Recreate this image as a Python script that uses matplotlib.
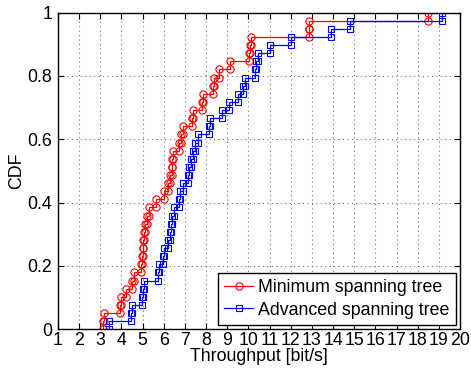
import numpy as np
import matplotlib
matplotlib.use('Agg')
import matplotlib.pyplot as plt

# throughput samples (sorted), one CDF step each
min_tree = [3.12, 3.18, 3.93, 4.0, 4.21, 4.48, 4.58, 4.92, 4.95, 5.0,
            5.03, 5.06, 5.13, 5.22, 5.3, 5.63, 6.0, 6.2, 6.29, 6.37,
            6.4, 6.45, 6.73, 6.8, 6.9, 7.32, 7.37, 7.79, 7.87, 8.34,
            8.39, 8.62, 9.13, 10.04, 10.07, 10.13, 12.85, 12.88, 18.5]
adv_tree = [3.43, 4.45, 4.51, 4.95, 5.03, 5.08, 5.74, 5.77, 5.98, 6.02,
            6.21, 6.29, 6.35, 6.4, 6.5, 6.72, 6.77, 6.92, 7.16, 7.19,
            7.29, 7.39, 7.47, 7.6, 8.12, 8.18, 8.75, 9.08, 9.49, 9.76,
            9.84, 10.31, 10.34, 10.47, 11.02, 12.01, 13.89, 14.8, 19.13]
labels = ['Minimum spanning tree', 'Advanced spanning tree']
x_ticks = list(range(1, 21))
y_ticks = [0, 0.2, 0.4, 0.6, 0.8, 1]
y_tick_labels = ['0', '0.2', '0.4', '0.6', '0.8', '1']


def cdf_vertices(samples):
    x = np.sort(np.asarray(samples, dtype=float))
    n = len(x)
    lo = np.arange(n) / n
    hi = np.arange(1, n + 1) / n
    xs = np.repeat(x, 2)
    ys = np.column_stack([lo, hi]).ravel()
    return xs, ys


plt.rcParams['font.family'] = ['Liberation Sans', 'DejaVu Sans']

fig = plt.figure(figsize=(4.71, 3.72), dpi=100)
ax = fig.add_axes([0.123, 0.115, 0.854, 0.851])

xs, ys = cdf_vertices(min_tree)
ax.plot(xs, ys, color='red', lw=0.9, marker='o', ms=5.2, mfc='none',
        mew=0.8, label=labels[0])
xs, ys = cdf_vertices(adv_tree)
ax.plot(xs, ys, color='blue', lw=0.9, marker='s', ms=4.3, mfc='none',
        mew=0.8, label=labels[1])

ax.set_xlim(1, 20)
ax.set_ylim(0, 1)
ax.set_xticks(x_ticks)
ax.set_yticks(y_ticks)
ax.set_yticklabels(y_tick_labels)
ax.tick_params(direction='in', top=True, right=True, length=4, width=0.8,
               labelsize=12.8)
ax.tick_params(axis='x', pad=2)
ax.tick_params(axis='y', pad=4)
ax.grid(True, linestyle=(0, (1, 3)), color='#707070', linewidth=0.8)
for s in ax.spines.values():
    s.set_linewidth(1.0)

ax.set_xlabel('Throughput [bit/s]', fontsize=12.8, labelpad=-1)
ax.set_ylabel('CDF', fontsize=12.8, labelpad=2)

leg = ax.legend(loc='lower right', fontsize=12.8, fancybox=False,
                framealpha=1, edgecolor='black', borderpad=0.35,
                handlelength=1.6, handletextpad=0.3, labelspacing=0.3,
                borderaxespad=0.25)
leg.get_frame().set_linewidth(1.0)

fig.savefig('out.png', dpi=100)
